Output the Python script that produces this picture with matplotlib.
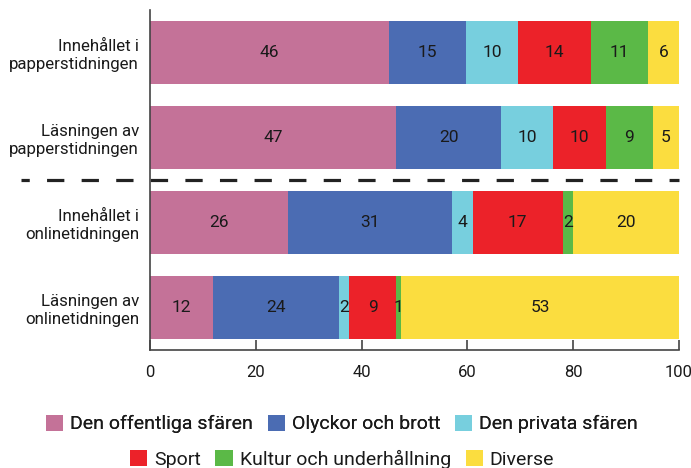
import matplotlib
matplotlib.use("Agg")
import matplotlib.pyplot as plt
import matplotlib.transforms as mtransforms
from matplotlib.patches import Patch

plt.rcParams['font.family'] = ['Roboto', 'DejaVu Sans']
plt.rcParams['lines.scale_dashes'] = False
plt.rcParams['text.color'] = '#1a1a1a'

categories = ["Innehållet i\npapperstidningen", "Läsningen av\npapperstidningen",
              "Innehållet i\nonlinetidningen", "Läsningen av\nonlinetidningen"]
series = ["Den offentliga sfären", "Olyckor och brott", "Den privata sfären",
          "Sport", "Kultur och underhållning", "Diverse"]
colors = ["#C47298", "#4B6CB3", "#77CFDE", "#EC2229", "#5BB947", "#FBDD3F"]

den_offentliga = [46, 47, 26, 12]
olyckor = [15, 20, 31, 24]
den_privata = [10, 10, 4, 2]
sport = [14, 10, 17, 9]
kultur = [11, 9, 2, 1]
diverse = [6, 5, 20, 53]
xticks = [0, 20, 40, 60, 80, 100]

data = [den_offentliga, olyckor, den_privata, sport, kultur, diverse]

fig = plt.figure(figsize=(6.91, 4.68), dpi=100)
ax = fig.add_axes([150/691, 1-350/468, 529/691, 340/468])

ypos = list(range(len(categories)))
totals = [sum(col[i] for col in data) for i in ypos]
left = [0.0]*len(categories)
for vals, name, c in zip(data, series, colors):
    widths = [v/t*100 for v, t in zip(vals, totals)]
    ax.barh(ypos, widths, left=left, height=0.73, color=c, label=name)
    for y, w, l, v in zip(ypos, widths, left, vals):
        ax.text(l + w/2, y, str(v), ha='center', va='center', fontsize=12.5, color='#1a1a1a')
    left = [l + w for l, w in zip(left, widths)]

ax.set_xlim(0, 100)
ax.set_ylim(3.5, -0.5)
ax.set_yticks(ypos)
ax.set_yticklabels(categories, fontsize=12.2, linespacing=1.25)
ax.set_xticks(xticks)
ax.set_xticklabels([str(t) for t in xticks], fontsize=12)
ax.tick_params(axis='y', length=0, pad=8, labelcolor='#1a1a1a')
ax.tick_params(axis='x', direction='in', length=7, width=1.2, pad=11, color='#444444',
               labelcolor='#1a1a1a')
for s in ['top', 'right']:
    ax.spines[s].set_visible(False)
for s in ['left', 'bottom']:
    ax.spines[s].set_linewidth(1.2)
    ax.spines[s].set_color('#444444')

trans = mtransforms.blended_transform_factory(ax.transAxes, ax.transData)
ln, = ax.plot([(21-150)/529, 1.0], [1.5, 1.5], transform=trans, clip_on=False,
              color='#222222', lw=2.3, solid_capstyle='butt', dash_capstyle='butt')
ln.set_linestyle((6.5, (12.45, 12.45)))

handles = [Patch(facecolor=c, edgecolor='none') for c in colors]
legkw = dict(loc='center', ncol=3, frameon=False, fontsize=14, handlelength=0.875,
             handleheight=0.875, handletextpad=0.36, columnspacing=0.77, borderpad=0,
             borderaxespad=0)
leg1 = fig.legend(handles[:3], series[:3], bbox_to_anchor=(342/691, 1-424/468), **legkw)
leg2 = fig.legend(handles[3:], series[3:], bbox_to_anchor=(342/691, 1-459/468), **legkw)
fig.add_artist(leg1)

fig.savefig("out.png", dpi=100)
